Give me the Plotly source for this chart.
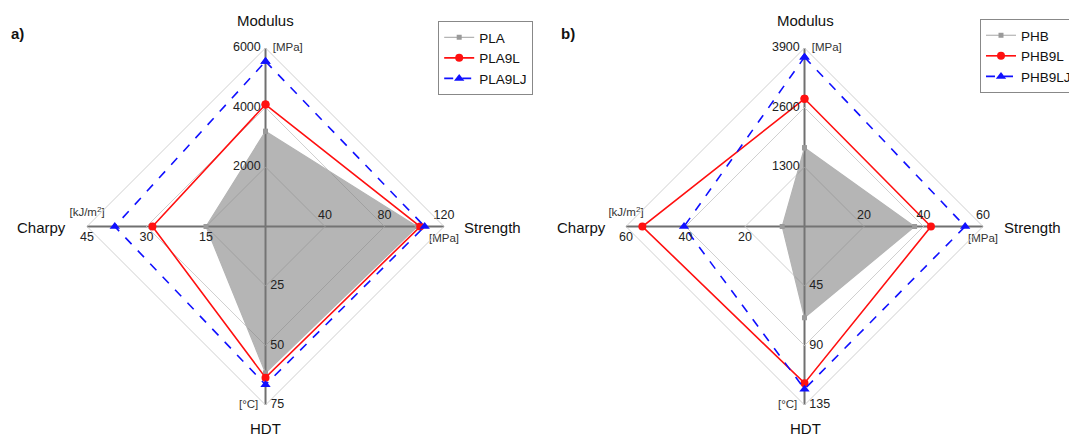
import plotly.graph_objects as go

# ---------------- data ----------------
categories = ["Modulus", "Strength", "HDT", "Charpy"]
units = ["[MPa]", "[MPa]", "[°C]", "[kJ/m<sup>2</sup>]"]

# panel a)
a_max = [6000, 120, 75, 45]
a_ticks = [[2000, 4000, 6000], [40, 80, 120], [25, 50, 75], [15, 30, 45]]
pla = [3200, 102, 61.5, 15]
pla9l = [4100, 104, 63.5, 28.5]
pla9lj = [5550, 107, 66.5, 38]
a_names = ["PLA", "PLA9L", "PLA9LJ"]

# panel b)
b_max = [3900, 60, 135, 60]
b_ticks = [[1300, 2600, 3900], [20, 40, 60], [45, 90, 135], [20, 40, 60]]
phb = [1720, 37, 69, 7.5]
phb9l = [2790, 42.5, 118.5, 54.5]
phb9lj = [3700, 54, 123, 40.5]
b_names = ["PHB", "PHB9L", "PHB9LJ"]

FONT = "Liberation Sans, Arial, sans-serif"
OFF = 8  # page body margin of the html page
W, H = 1077 - OFF, 437 - OFF
fig = go.Figure()


def norm(vals, mx):
    return [v / m for v, m in zip(vals, mx)]


def add_panel(sub, legend, mx, ticks, series, names):
    styles = [
        dict(line=dict(color="#b4b4b4", width=1.2),
             marker=dict(symbol="square", size=5, color="#9a9a9a")),
        dict(line=dict(color="#ff1010", width=1.6),
             marker=dict(symbol="circle", size=8, color="#ff1010")),
        dict(line=dict(color="#1010ff", width=1.6, dash="dash"),
             marker=dict(symbol="triangle-up", size=9, color="#1010ff")),
    ]
    # filled area of the neat polymer
    r0 = norm(series[0], mx)
    fig.add_trace(go.Scatterpolar(
        r=r0 + r0[:1], theta=categories + categories[:1], mode="none",
        fill="toself", fillcolor="rgba(120,120,120,0.55)",
        subplot=sub, showlegend=False, hoverinfo="skip"))
    for vals, name, st in zip(series, names, styles):
        r = norm(vals, mx)
        fig.add_trace(go.Scatterpolar(
            r=r + r[:1], theta=categories + categories[:1],
            mode="lines+markers", name=name, subplot=sub, legend=legend,
            hoverinfo="skip", **st))
    # tick labels
    tpos = ["middle left", "top center", "middle right", "bottom center"]
    for cat, tks, m, pos in zip(categories, ticks, mx, tpos):
        fig.add_trace(go.Scatterpolar(
            r=[t / m for t in tks], theta=[cat] * len(tks), mode="markers+text",
            marker=dict(size=6, opacity=0),
            text=[str(t) for t in tks], textposition=pos,
            textfont=dict(family=FONT, size=12.5, color="#222"),
            subplot=sub, showlegend=False, hoverinfo="skip", cliponaxis=False))
    # units
    upos = ["middle right", "bottom center", "middle left", "top center"]
    fig.add_trace(go.Scatterpolar(
        r=[1, 1, 1, 1], theta=categories, mode="markers+text",
        marker=dict(size=10, opacity=0),
        text=units, textposition=upos,
        textfont=dict(family=FONT, size=11.5, color="#333"),
        subplot=sub, showlegend=False, hoverinfo="skip", cliponaxis=False))


add_panel("polar", "legend", a_max, a_ticks, [pla, pla9l, pla9lj], a_names)
add_panel("polar2", "legend2", b_max, b_ticks, [phb, phb9l, phb9lj], b_names)

polar_common = dict(
    gridshape="linear", bgcolor="white",
    radialaxis=dict(range=[0, 1], tickvals=[1 / 3, 2 / 3, 1], showticklabels=False,
                    ticks="", showline=False, gridcolor="#d0d0d0", gridwidth=1),
    angularaxis=dict(type="category", categoryarray=categories, rotation=90,
                     direction="clockwise", showticklabels=False, ticks="",
                     gridcolor="#707070", gridwidth=1.5,
                     linecolor="#d0d0d0", linewidth=1),
)


def px(x):
    return (x - OFF) / W


def py(y):
    return 1 - (y - OFF) / H


ydom = [py(405), py(48)]
legend_common = dict(font=dict(family=FONT, size=13.5, color="#111"),
                     bordercolor="#888", borderwidth=1, bgcolor="white",
                     xanchor="left", yanchor="top", tracegroupgap=0)

fig.update_layout(
    width=W, height=H, margin=dict(l=0, r=0, t=0, b=0),
    paper_bgcolor="white", plot_bgcolor="white",
    font=dict(family=FONT, size=12, color="#222"),
    polar=dict(domain=dict(x=[px(87), px(445)], y=ydom), **polar_common),
    polar2=dict(domain=dict(x=[px(627), px(985)], y=ydom), **polar_common),
    legend=dict(x=px(439), y=py(21), **legend_common),
    legend2=dict(x=px(982), y=py(19), **legend_common),
)


# axis titles and panel letters
def ann(text, x, y, xanchor="center", size=15, bold=False):
    fig.add_annotation(text=f"<b>{text}</b>" if bold else text,
                       x=px(x), y=py(y), xref="paper", yref="paper",
                       xanchor=xanchor, yanchor="middle", showarrow=False,
                       font=dict(family=FONT, size=size, color="#111"))


for off, letter in [(0, "a)"), (541, "b)")]:
    cx = 266 + off
    ann(letter, 9 + off + (10 if off else 0), 33, xanchor="left", size=15, bold=True)
    ann("Modulus", cx, 21)
    ann("Strength", cx + 197, 228, xanchor="left")
    ann("Charpy", cx - 198, 228, xanchor="right")
    ann("HDT", cx, 428)

fig.write_html("out.html")
